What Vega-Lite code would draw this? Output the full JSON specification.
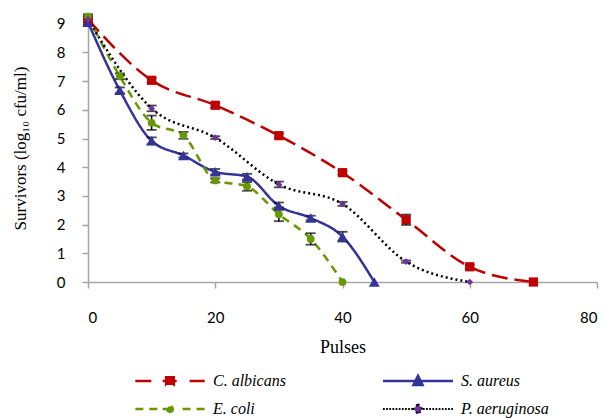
{
  "$schema": "https://vega.github.io/schema/vega-lite/v6.json",
  "width": 509,
  "height": 268,
  "autosize": "none",
  "padding": {"left": 88, "top": 14, "right": 9, "bottom": 136},
  "background": "white",
  "config": {
    "view": {"stroke": null},
    "axis": {
      "grid": false,
      "domainColor": "#a6a6a6",
      "domainWidth": 1.5,
      "tickColor": "#a6a6a6",
      "tickWidth": 1.5,
      "tickSize": 6,
      "labelFont": "Lato",
      "labelFontSize": 15,
      "labelColor": "#000000",
      "titleFont": "Liberation Serif",
      "titleFontSize": 17,
      "titleFontWeight": "normal",
      "titleColor": "#000000"
    }
  },
  "data": {
    "values": [
      {"s": "C. albicans", "x": 0, "y": 9.15, "e": 0.1},
      {"s": "C. albicans", "x": 10, "y": 7.03, "e": 0.08},
      {"s": "C. albicans", "x": 20, "y": 6.16, "e": 0.08},
      {"s": "C. albicans", "x": 30, "y": 5.1, "e": 0.08},
      {"s": "C. albicans", "x": 40, "y": 3.81, "e": 0.07},
      {"s": "C. albicans", "x": 50, "y": 2.17, "e": 0.18},
      {"s": "C. albicans", "x": 60, "y": 0.53, "e": 0.07},
      {"s": "C. albicans", "x": 70, "y": 0, "e": 0},
      {"s": "S. aureus", "x": 0, "y": 9.05, "e": 0.1},
      {"s": "S. aureus", "x": 5, "y": 6.68, "e": 0.1},
      {"s": "S. aureus", "x": 10, "y": 4.92, "e": 0.12},
      {"s": "S. aureus", "x": 15, "y": 4.41, "e": 0.07},
      {"s": "S. aureus", "x": 20, "y": 3.84, "e": 0.1},
      {"s": "S. aureus", "x": 25, "y": 3.67, "e": 0.1},
      {"s": "S. aureus", "x": 30, "y": 2.65, "e": 0.12},
      {"s": "S. aureus", "x": 35, "y": 2.23, "e": 0.08},
      {"s": "S. aureus", "x": 40, "y": 1.58, "e": 0.17},
      {"s": "S. aureus", "x": 45, "y": 0, "e": 0},
      {"s": "E. coli", "x": 0, "y": 9.25, "e": 0.08},
      {"s": "E. coli", "x": 5, "y": 7.17, "e": 0.1},
      {"s": "E. coli", "x": 10, "y": 5.55, "e": 0.25},
      {"s": "E. coli", "x": 15, "y": 5.11, "e": 0.12},
      {"s": "E. coli", "x": 20, "y": 3.54, "e": 0.07},
      {"s": "E. coli", "x": 25, "y": 3.33, "e": 0.15},
      {"s": "E. coli", "x": 30, "y": 2.36, "e": 0.24},
      {"s": "E. coli", "x": 35, "y": 1.5, "e": 0.2},
      {"s": "E. coli", "x": 40, "y": 0, "e": 0},
      {"s": "P. aeruginosa", "x": 0, "y": 9.15, "e": 0.1},
      {"s": "P. aeruginosa", "x": 10, "y": 6.05, "e": 0.1},
      {"s": "P. aeruginosa", "x": 20, "y": 5.03, "e": 0.05},
      {"s": "P. aeruginosa", "x": 30, "y": 3.4, "e": 0.1},
      {"s": "P. aeruginosa", "x": 40, "y": 2.72, "e": 0.07},
      {"s": "P. aeruginosa", "x": 50, "y": 0.71, "e": 0.04},
      {"s": "P. aeruginosa", "x": 60, "y": 0, "e": 0}
    ]
  },
  "encoding": {
    "x": {
      "field": "x", "type": "quantitative",
      "scale": {"domain": [0, 80], "nice": false},
      "axis": {"values": [0, 20, 40, 60, 80], "title": "Pulses", "labelPadding": 22, "titlePadding": 13, "titleFontSize": 18, "titleFontWeight": "normal", "titleFont": "Liberation Serif"}
    },
    "y": {
      "field": "y", "type": "quantitative",
      "scale": {"domain": [0, 9.34], "nice": false},
      "axis": {"values": [0, 1, 2, 3, 4, 5, 6, 7, 8, 9], "title": "Survivors (log₁₀ cfu/ml)", "labelPadding": 17, "titlePadding": 27, "titleFontWeight": "normal", "titleFont": "Liberation Serif"}
    }
  },
  "layer": [
    {
      "mark": {"type": "line", "interpolate": "monotone", "strokeWidth": 2.5},
      "encoding": {
        "stroke": {
          "field": "s", "type": "nominal",
          "scale": {"domain": ["C. albicans", "S. aureus", "E. coli", "P. aeruginosa"], "range": ["#C00000", "#333399", "#669900", "#000000"]},
          "legend": {
            "orient": "none",
            "legendX": 74,
            "legendY": 359,
            "direction": "horizontal",
            "columns": 2,
            "title": null,
            "symbolSize": 4900,
            "symbolStrokeWidth": 2.5,
            "labelFont": "Liberation Serif",
            "labelFontStyle": "italic",
            "labelFontSize": 16,
            "labelColor": "#000000",
            "labelOffset": 35,
            "columnPadding": 92,
            "rowPadding": 10,
            "encode": {
              "symbols": {
                "update": {
                  "shape": {"signal": "datum.value === 'C. albicans' ? 'M-0.99,0H-0.39M-0.21,0H0.19M0.56,0H0.99M-0.11,-0.11H0.11V0.11H-0.11Z' : datum.value === 'S. aureus' ? 'M-1,0H1M0,-0.15L0.13,0.11L-0.13,0.11Z' : datum.value === 'E. coli' ? 'M-0.99,0H-0.76M-0.59,0H-0.36M-0.21,0H0.19M0.36,0H0.59M0.76,0H0.99M0.08,0A0.08,0.08 0 1,1 -0.08,0A0.08,0.08 0 1,1 0.08,0Z' : 'M-1,0H-0.95M-0.91,0H-0.86M-0.82,0H-0.77M-0.73,0H-0.68M-0.64,0H-0.59M-0.55,0H-0.5M-0.46,0H-0.41M-0.37,0H-0.32M-0.28,0H-0.23M-0.19,0H-0.14M0.14,0H0.19M0.23,0H0.28M0.32,0H0.37M0.41,0H0.46M0.5,0H0.55M0.59,0H0.64M0.68,0H0.73M0.77,0H0.82M0.86,0H0.91M0.95,0H1M0,-0.15L0.13,0L0,0.15L-0.13,0Z'"},
                  "fill": {"signal": "datum.value === 'C. albicans' ? '#C00000' : datum.value === 'S. aureus' ? '#333399' : datum.value === 'E. coli' ? '#669900' : '#7030A0'"},
                  "stroke": {"signal": "datum.value === 'C. albicans' ? '#C00000' : datum.value === 'S. aureus' ? '#333399' : datum.value === 'E. coli' ? '#669900' : '#000000'"},
                  "strokeWidth": {"signal": "datum.value === 'P. aeruginosa' ? 1.8 : 2.5"},
                  "strokeDash": {"value": []},
                  "opacity": {"value": 1}
                }
              }
            }
          }
        },
        "strokeDash": {
          "field": "s", "type": "nominal",
          "scale": {"domain": ["C. albicans", "S. aureus", "E. coli", "P. aeruginosa"], "range": [[16, 7], [1, 0], [8, 6], [2, 3]]},
          "legend": null
        }
      }
    },
    {
      "transform": [{"filter": "datum.e > 0"}],
      "mark": {"type": "errorbar", "ticks": {"size": 10, "thickness": 1.8, "color": "#000000"}, "rule": {"strokeWidth": 1.5, "color": "#000000"}},
      "encoding": {
        "y": {"field": "y", "type": "quantitative"},
        "yError": {"field": "e"}
      }
    },
    {
      "transform": [{"filter": "datum.s === 'C. albicans'"}],
      "mark": {"type": "point", "shape": "square", "filled": true, "size": 85, "color": "#C00000", "opacity": 1}
    },
    {
      "transform": [{"filter": "datum.s === 'S. aureus'"}],
      "mark": {"type": "point", "shape": "triangle-up", "filled": true, "size": 120, "color": "#333399", "opacity": 1}
    },
    {
      "transform": [{"filter": "datum.s === 'E. coli'"}],
      "mark": {"type": "point", "shape": "circle", "filled": true, "size": 60, "color": "#669900", "opacity": 1}
    },
    {
      "transform": [{"filter": "datum.s === 'P. aeruginosa'"}],
      "mark": {"type": "point", "shape": "diamond", "filled": true, "size": 45, "color": "#7030A0", "opacity": 1}
    }
  ]
}
